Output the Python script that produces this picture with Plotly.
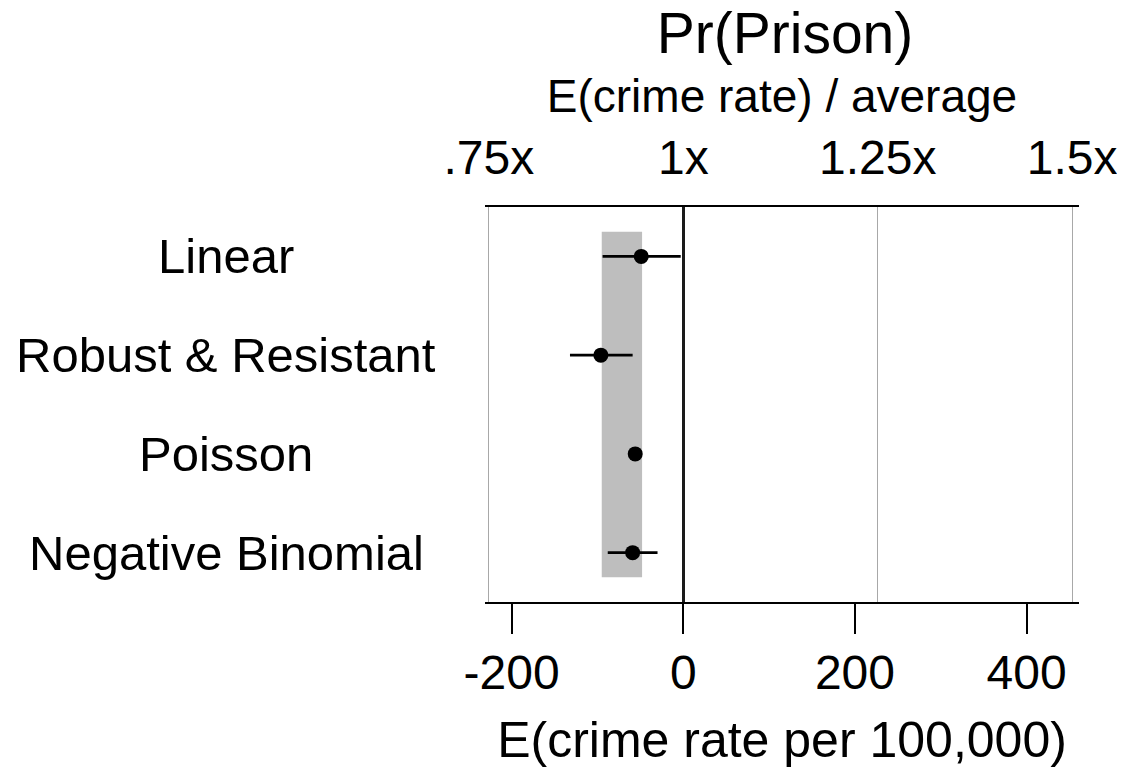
import plotly.graph_objects as go

# ---- data ----
models = ["Linear", "Robust & Resistant", "Poisson", "Negative Binomial"]
effect = [-49, -96, -56, -59]
ci_low = [-94, -132, -60, -88]
ci_high = [-3, -59, -53, -30]
band_low = -95
band_high = -48
avg_rate = 906
bottom_ticks = [-200, 0, 200, 400]
bottom_labels = ["-200", "0", "200", "400"]
top_ratios = [0.75, 1.0, 1.25, 1.5]
top_labels = [".75x", "1x", "1.25x", "1.5x"]

# ---- layout constants (page body has an 8px margin) ----
OFF = 8
W, H = 1125 - OFF, 776 - OFF
L, R, T, B = 485 - OFF, 46, 207 - OFF, 174
xmin, xmax = -231, 461
FONT = "Liberation Sans, Arial, Helvetica, sans-serif"
PW = W - L - R

rows = list(range(1, len(models) + 1))

fig = go.Figure()

fig.add_shape(type="rect", xref="x", yref="y",
              x0=band_low, x1=band_high, y0=0.75, y1=4.25,
              fillcolor="#bebebe", line=dict(width=0), layer="below")

fig.add_trace(go.Scatter(
    x=effect, y=rows, mode="markers",
    marker=dict(size=15, color="black"),
    error_x=dict(type="data", symmetric=False,
                 array=[h - e for h, e in zip(ci_high, effect)],
                 arrayminus=[e - l for e, l in zip(effect, ci_low)],
                 color="black", thickness=2.6, width=0),
    showlegend=False, hoverinfo="skip"))

# invisible trace to anchor the top ratio axis
fig.add_trace(go.Scatter(x=top_ratios, y=[None] * len(top_ratios), xaxis="x2",
                         mode="markers", showlegend=False, hoverinfo="skip"))

for m, r in zip(models, rows):
    fig.add_annotation(text=m, x=(226 - OFF - L) / PW, xref="paper",
                       y=r, yref="y", xanchor="center", yanchor="middle",
                       showarrow=False, font=dict(size=49, color="black", family=FONT))

fig.update_layout(
    width=W, height=H,
    margin=dict(l=L, r=R, t=T, b=B, pad=0, autoexpand=False),
    paper_bgcolor="white", plot_bgcolor="white",
    font=dict(family=FONT, color="black"),
    title=dict(text="Pr(Prison)", x=(L + PW / 2 + 3) / W, xanchor="center",
               xref="container", yref="container", y=1 - 5 / H, yanchor="top",
               automargin=False,
               font=dict(size=57, color="black", family=FONT)),
    xaxis=dict(range=[xmin, xmax], tickvals=bottom_ticks, ticktext=bottom_labels,
               ticks="outside", ticklen=30, tickwidth=1.5, tickcolor="black",
               showline=True, linecolor="black", linewidth=1.5, automargin=False,
               showgrid=False, zeroline=True, zerolinecolor="#1a1a1a", zerolinewidth=2.5,
               tickfont=dict(size=48), ticklabelstandoff=-2,
               title=dict(text="E(crime rate per 100,000)", font=dict(size=50), standoff=24)),
    xaxis2=dict(overlaying="x", side="top", automargin=False,
                range=[1 + xmin / avg_rate, 1 + xmax / avg_rate],
                tickvals=top_ratios, ticktext=top_labels, ticks="",
                showline=True, linecolor="black", linewidth=1.5,
                showgrid=True, gridcolor="#a8a8a8", gridwidth=1, zeroline=False,
                tickfont=dict(size=48), ticklabelstandoff=12,
                title=dict(text="E(crime rate) / average", font=dict(size=46), standoff=4)),
    yaxis=dict(range=[4.5, 0.5], showticklabels=False, showgrid=False,
               zeroline=False, showline=False, ticks="", automargin=False),
)

fig.write_html("out.html")
